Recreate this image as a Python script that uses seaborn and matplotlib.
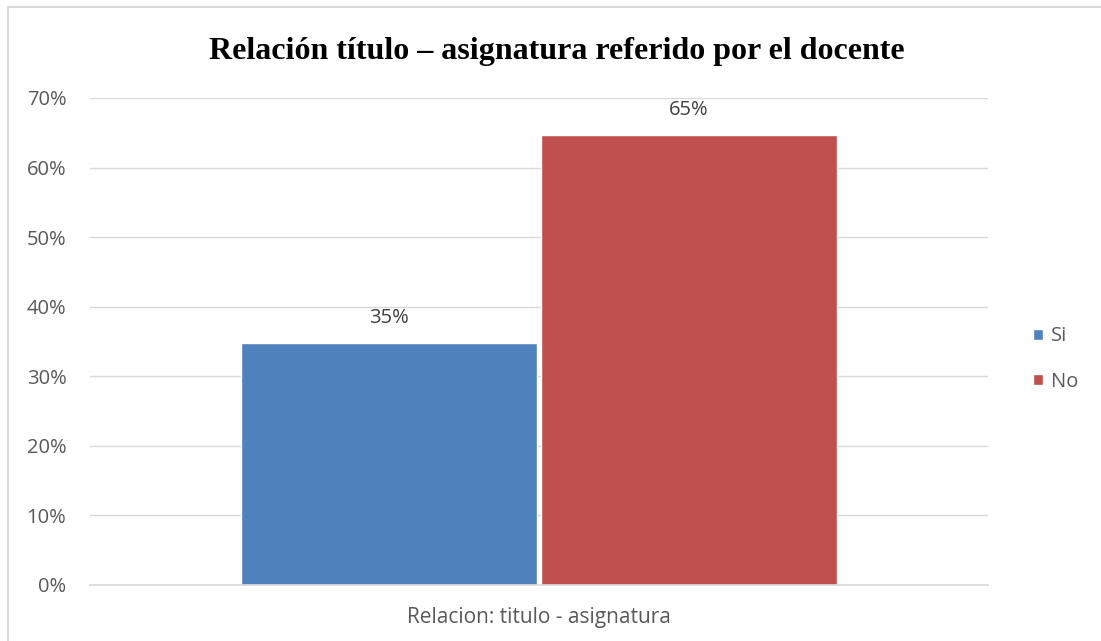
import pandas as pd
import matplotlib.pyplot as plt
import matplotlib.ticker as mtick
from matplotlib.lines import Line2D
import seaborn as sns

# data
category = ["Relacion: titulo - asignatura"]
series = ["Si", "No"]
values = [0.348, 0.647]
value_labels = ["35%", "65%"]
colors = ["#4F81BD", "#C0504D"]

df = pd.DataFrame({
    "cat": category * len(series),
    "serie": series,
    "val": values,
})

sns.set_style("white")
plt.rcParams['font.family'] = ['Open Sans', 'DejaVu Sans']

fig = plt.figure(figsize=(11.01, 6.41), dpi=100)
ax = fig.add_axes([90 / 1101, 1 - 585 / 641, 898 / 1101, 487 / 641])

sns.barplot(data=df, x="cat", y="val", hue="serie", palette=colors,
            width=0.667, gap=0.012, ax=ax, saturation=1, legend=True)

ax.set_ylim(0, 0.70)
ax.set_xlim(-0.5, 0.5)
ax.yaxis.set_major_locator(mtick.MultipleLocator(0.1))
ax.yaxis.set_major_formatter(mtick.PercentFormatter(1.0, decimals=0))
ax.grid(axis="y", color="#d9d9d9", linewidth=1)
ax.set_axisbelow(True)
for side in ["top", "right", "left"]:
    ax.spines[side].set_visible(False)
ax.spines["bottom"].set_color("#d9d9d9")
ax.spines["bottom"].set_linewidth(1.2)

ax.tick_params(axis="y", length=0, pad=17, labelsize=14.5, labelcolor="#595959")
ax.tick_params(axis="x", which="major", length=0, pad=16, labelsize=15, labelcolor="#595959")
ax.set_xticks([-0.5, 0.5], minor=True)
ax.tick_params(axis="x", which="minor", length=9, width=1.2, color="#d9d9d9")
ax.set_xlabel("")
ax.set_ylabel("")

for cont, lab in zip(ax.containers, value_labels):
    ax.bar_label(cont, labels=[lab], padding=11, fontsize=14.5, color="#404040")

handles, labels = ax.get_legend_handles_labels()
ax.legend(handles, labels, loc="center left", bbox_to_anchor=(1015 / 1101, 1 - 359 / 641),
          bbox_transform=fig.transFigure, frameon=False, fontsize=14.5,
          handlelength=0.5, handleheight=0.5, handletextpad=0.4,
          labelspacing=1.25, labelcolor="#595959")

fig.text(557 / 1101, 1 - 52 / 641, "Relación título – asignatura referido por el docente",
         ha="center", va="center", fontsize=23, fontweight="bold", color="black",
         family=["Liberation Serif", "DejaVu Serif"])

# chart frame (top and left edges visible)
fig.add_artist(Line2D([7.5 / 1101, 1], [1 - 6.5 / 641, 1 - 6.5 / 641],
                      transform=fig.transFigure, color="#d9d9d9", linewidth=1.5))
fig.add_artist(Line2D([7.5 / 1101, 7.5 / 1101], [0, 1 - 6.5 / 641],
                      transform=fig.transFigure, color="#d9d9d9", linewidth=1.5))

fig.savefig("out.png", dpi=100, facecolor="white")
